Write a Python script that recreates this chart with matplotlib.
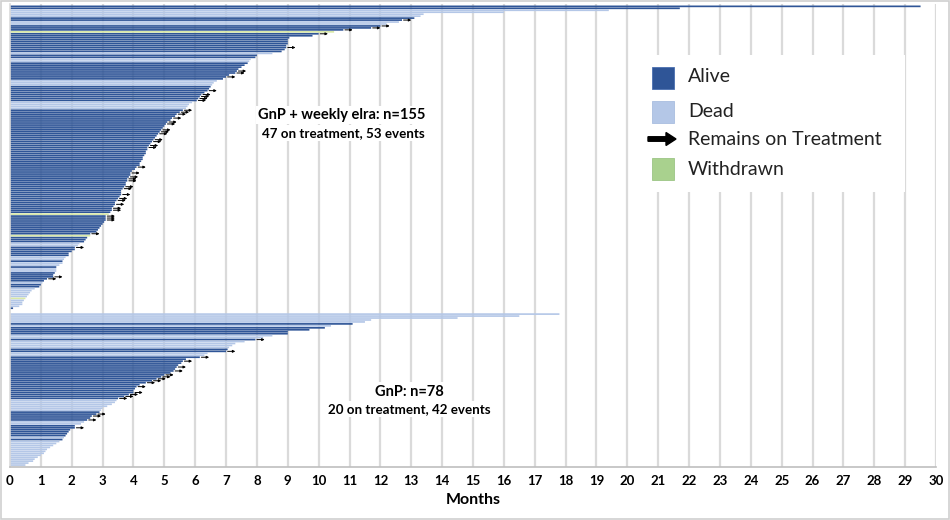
import matplotlib
matplotlib.use("Agg")
import matplotlib.pyplot as plt
from matplotlib.patches import Rectangle, FancyArrow

plt.rcParams['font.family'] = ['Lato', 'DejaVu Sans']

# ---------------- data ----------------
# status: A = alive, D = dead, W = withdrawn ; ontx: 1 = remains on treatment
top_months = [29.5, 21.7, 19.4, 16.0, 13.4, 13.3, 13.1, 12.7, 12.6, 12.2,
              12.0, 11.7, 10.8, 10.5, 10.0, 9.8, 9.05, 9.0, 9.0, 9.0,
              8.95, 8.95, 8.9, 8.8, 8.5, 8.0, 7.95, 7.8, 7.75, 7.7,
              7.6, 7.5, 7.4, 7.35, 7.3, 7.1, 7.0, 6.9, 6.7, 6.6,
              6.55, 6.5, 6.45, 6.4, 6.3, 6.2, 6.15, 6.1, 6.05, 5.9,
              5.8, 5.75, 5.7, 5.6, 5.5, 5.4, 5.35, 5.25, 5.2, 5.1,
              5.05, 5.0, 4.95, 4.9, 4.85, 4.8, 4.75, 4.7, 4.65, 4.6,
              4.55, 4.5, 4.45, 4.45, 4.4, 4.4, 4.35, 4.3, 4.3, 4.25,
              4.2, 4.2, 4.1, 4.05, 3.95, 3.9, 3.9, 3.85, 3.8, 3.8,
              3.75, 3.75, 3.7, 3.65, 3.6, 3.6, 3.6, 3.55, 3.5, 3.45,
              3.4, 3.4, 3.35, 3.3, 3.3, 3.25, 3.2, 3.1, 3.1, 3.1,
              3.05, 3.0, 2.95, 2.9, 2.85, 2.8, 2.6, 2.6, 2.5, 2.45,
              2.4, 2.25, 2.2, 2.1, 2.1, 2.0, 1.9, 1.9, 1.8, 1.75,
              1.7, 1.7, 1.6, 1.5, 1.5, 1.5, 1.45, 1.4, 1.4, 1.2,
              1.1, 1.05, 1.0, 0.95, 0.8, 0.7, 0.65, 0.6, 0.55, 0.5,
              0.45, 0.4, 0.4, 0.3, 0.1]
top_status = list("AADDDDAADD"
                  "AAAWAAAAAA"
                  "AAAADAADDA"
                  "AAAAAAAADD"
                  "DAAAAAAAAD"
                  "DDDAAAAAAA"
                  "AAAAAAAAAA"
                  "AAAAAAAAAA"
                  "AAAAAAAAAA"
                  "AAAAAAAAAA"
                  "AAAAAAWAAA"
                  "AAAAAAAWAA"
                  "ADDAAAAADD"
                  "ADDADDAAAA"
                  "ADAADDDDDW"
                  "DDDDA")
top_ontx = [0, 0, 0, 0, 0, 0, 0, 1, 0, 0,
            1, 1, 1, 0, 1, 0, 0, 0, 0, 0,
            0, 1, 0, 0, 0, 0, 0, 0, 0, 0,
            0, 0, 0, 1, 1, 0, 1, 0, 0, 0,
            0, 0, 0, 1, 0, 1, 1, 1, 1, 0,
            0, 0, 0, 1, 1, 1, 0, 1, 0, 1,
            1, 0, 0, 1, 1, 1, 0, 0, 1, 1,
            0, 1, 1, 0, 0, 0, 0, 0, 0, 0,
            0, 0, 1, 0, 0, 1, 0, 1, 1, 1,
            0, 0, 1, 1, 0, 0, 1, 0, 1, 1,
            0, 1, 0, 1, 1, 0, 0, 1, 1, 1,
            0, 0, 0, 0, 0, 0, 1, 0, 0, 0,
            0, 0, 0, 1, 0, 0, 0, 0, 0, 0,
            0, 0, 0, 0, 0, 0, 0, 0, 1, 1,
            0, 0, 0, 0, 0, 0, 0, 0, 0, 0,
            0, 0, 0, 0, 0]

bot_months = [17.8, 16.5, 14.5, 11.7, 11.5, 11.1, 10.4, 10.2, 9.7, 9.0,
              9.0, 8.5, 8.2, 7.95, 7.6, 7.3, 7.2, 7.1, 7.05, 7.0,
              6.4, 6.3, 6.15, 5.7, 5.6, 5.55, 5.45, 5.4, 5.35, 5.3,
              5.2, 5.0, 4.9, 4.75, 4.6, 4.4, 4.2, 4.1, 4.05, 4.0,
              4.0, 3.85, 3.7, 3.5, 3.45, 3.4, 3.3, 3.15, 3.0, 2.95,
              2.9, 2.8, 2.65, 2.6, 2.5, 2.4, 2.3, 2.1, 2.1, 1.95,
              1.9, 1.85, 1.8, 1.75, 1.7, 1.6, 1.5, 1.4, 1.3, 1.2,
              1.15, 1.1, 1.0, 0.9, 0.8, 0.75, 0.6, 0.5]
bot_status = list("DDDDDADAAA"
                  "ADDADDDDAA"
                  "DDAAAAAAAA"
                  "AAAAAAAAAA"
                  "AAAADDDDDD"
                  "AAAAADDAAA"
                  "AAADADDDDD"
                  "DDDDDDDD")
bot_ontx = [0, 0, 0, 0, 0, 0, 0, 0, 0, 0,
            0, 0, 0, 1, 0, 0, 0, 0, 0, 1,
            0, 0, 1, 0, 1, 0, 0, 1, 0, 1,
            0, 1, 1, 1, 1, 1, 0, 1, 0, 0,
            1, 1, 1, 1, 0, 0, 0, 0, 0, 0,
            0, 1, 1, 0, 1, 0, 0, 0, 1, 0,
            0, 0, 0, 0, 0, 0, 0, 0, 0, 0,
            0, 0, 0, 0, 0, 0, 0, 0]

xticks = list(range(0, 31))
legend_labels = ["Alive", "Dead", "Remains on Treatment", "Withdrawn"]
top_title = "GnP + weekly elra: n=155"
top_sub = "47 on treatment, 53 events"
bot_title = "GnP: n=78"
bot_sub = "20 on treatment, 42 events"

# ---------------- style ----------------
C_ALIVE = '#2f5597'
C_DEAD = '#b4c7e7'
C_WD = '#d8e8a8'
C_WD_LEG = '#a9d18e'
colmap = {'A': C_ALIVE, 'D': C_DEAD, 'W': C_WD}

W, H, DPI = 950, 520, 100
fig = plt.figure(figsize=(W / DPI, H / DPI), dpi=DPI)
fig.patch.set_facecolor('white')

def px_axes(x0, y0, x1, y1):
    return [x0 / W, 1 - y1 / H, (x1 - x0) / W, (y1 - y0) / H]

ax = fig.add_axes(px_axes(10, 4, 936, 467))

gap = 2
top_pos = list(range(len(top_months)))
bot_pos = [len(top_months) + gap + j for j in range(len(bot_months))]

bh = 0.86
for pos, vals, sts in [(top_pos, top_months, top_status),
                       (bot_pos, bot_months, bot_status)]:
    bars = ax.barh(pos, vals, height=bh, color=[colmap[s] for s in sts],
                   linewidth=0, zorder=2)
    for b in bars:
        b.set_snap(False)

def arrows(pos, vals, flags):
    for p, v, f in zip(pos, vals, flags):
        if f:
            ax.annotate('', xy=(v + 0.3, p), xytext=(v + 0.05, p),
                        arrowprops=dict(arrowstyle='-|>', color='black',
                                        lw=0.7, mutation_scale=3.5,
                                        shrinkA=0, shrinkB=0),
                        zorder=3)

arrows(top_pos, top_months, top_ontx)
arrows(bot_pos, bot_months, bot_ontx)

total = bot_pos[-1]
ax.set_ylim(total + 1.0, -1.2)
ax.set_xlim(0, 30)
ax.set_xticks(xticks)
ax.set_xticklabels([str(t) for t in xticks], fontsize=9.5, fontweight='bold')
ax.set_yticks([])
for x in xticks[1:]:
    ax.axvline(x, color='#dadada', lw=1.6, zorder=0)
for s in ['top', 'right']:
    ax.spines[s].set_visible(False)
ax.spines['left'].set_color('#dadada')
ax.spines['left'].set_linewidth(1.2)
ax.spines['bottom'].set_color('#bfbfbf')
ax.spines['bottom'].set_linewidth(1.2)
ax.tick_params(axis='x', length=0, pad=6, colors='black')
ax.set_xlabel('Months', fontsize=11.5, fontweight='bold', labelpad=4)

bbox = dict(facecolor='white', edgecolor='none', pad=1.5)
ax.text(10.75, 55.5, top_title, ha='center', va='center', fontsize=10.5,
        fontweight='bold', bbox=bbox, zorder=4)
ax.text(10.8, 64.5, top_sub, ha='center', va='center', fontsize=9.6,
        fontweight='bold', bbox=bbox, zorder=4)
ax.text(12.95, 196.5, bot_title, ha='center', va='center', fontsize=10.5,
        fontweight='bold', bbox=bbox, zorder=4)
ax.text(12.95, 205.5, bot_sub, ha='center', va='center', fontsize=9.6,
        fontweight='bold', bbox=bbox, zorder=4)

# ---------------- legend ----------------
lg = fig.add_axes(px_axes(630, 55, 905, 192))
lg.set_xlim(630, 905)
lg.set_ylim(192, 55)
lg.set_facecolor('white')
for s in lg.spines.values():
    s.set_visible(False)
lg.set_xticks([])
lg.set_yticks([])
lg.add_patch(Rectangle((652, 67), 22, 22, facecolor=C_ALIVE, edgecolor='#4a6fb0', lw=0.6))
lg.add_patch(Rectangle((652, 101), 22, 22, facecolor=C_DEAD, edgecolor='#a8bde0', lw=0.6))
lg.add_patch(FancyArrow(648, 139, 18, 0, width=4.5, head_width=13, head_length=10,
                        length_includes_head=False, color='black'))
lg.add_patch(Rectangle((652, 158), 22, 22, facecolor=C_WD_LEG, edgecolor='#9cc585', lw=0.6))
for yy, lab in zip([77, 112, 140, 170], legend_labels):
    lg.text(688, yy, lab, ha='left', va='center', fontsize=14, color='#222222')

# light frame around the image
fig.patches.append(Rectangle((0.001, 0.002), 0.998, 0.996, transform=fig.transFigure,
                             fill=False, edgecolor='#cfcfcf', lw=1.2))

fig.savefig('out.png', dpi=DPI, facecolor='white')
